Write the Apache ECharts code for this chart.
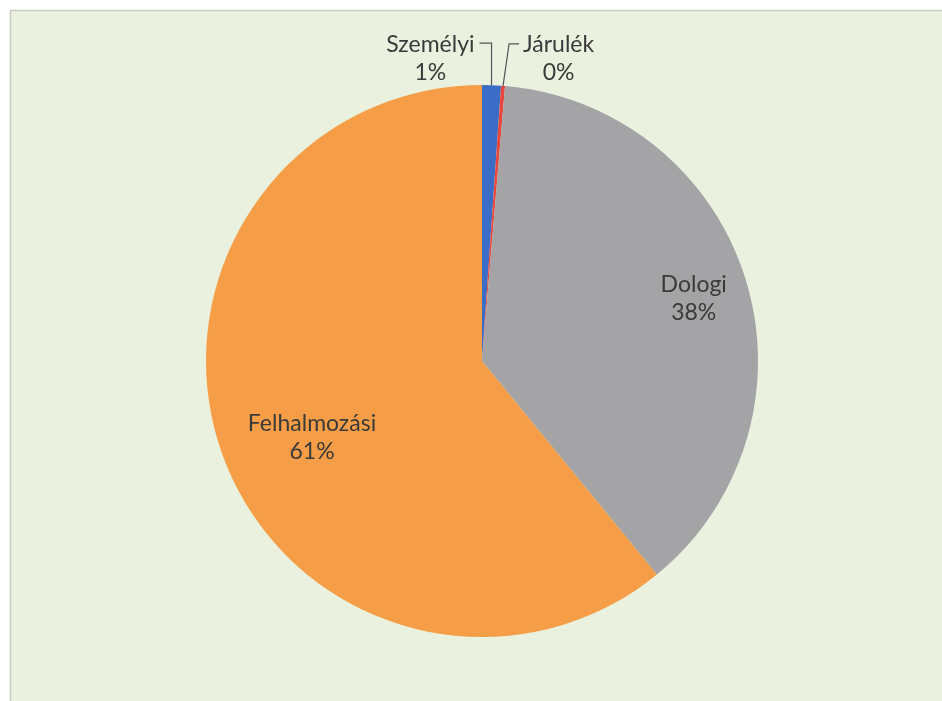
<!DOCTYPE html>
<html>
<head>
<meta charset="utf-8">
<script src="https://cdn.jsdelivr.net/npm/echarts@6/dist/echarts.min.js"></script>
<style>
  html, body { margin: 0; padding: 0; background: #ffffff; }
  #chart { width: 942px; height: 701px; }
</style>
</head>
<body>
<div id="chart"></div>
<script>
// Expenditure split by type (percent of total)
const categories = ['Személyi', 'Járulék', 'Dologi', 'Felhalmozási'];
const shares = [1.1, 0.23, 37.75, 60.92];
const colors = ['#3b6cc6', '#e8473d', '#a4a4a7', '#f59e47'];

// Pie geometry
const CX = 482, CY = 361, R = 276;

const total = shares.reduce((a, b) => a + b, 0);

// Mid angle of a slice, radians, clockwise from 12 o'clock
function midAngle(i) {
  let before = 0;
  for (let k = 0; k < i; k++) before += shares[k];
  return (before + shares[i] / 2) / total * 2 * Math.PI;
}
function polar(a, rr) {
  return [CX + rr * Math.sin(a), CY - rr * Math.cos(a)];
}

// Label placement: inside labels sit along the slice's mid angle,
// the two thin slices get callouts above the pie.
const inside = {
  'Dologi':       { radius: 0.80, turn: 0.8 },
  'Felhalmozási': { radius: 0.675, turn: -4.5 }
};
const callout = {
  'Személyi': { rise: 42, lean: 0, arm: -12, gap: 5 },
  'Járulék':  { rise: 42, lean: 6,  arm: 10,  gap: 4 }
};

const chart = echarts.init(document.getElementById('chart'), null, { renderer: 'canvas' });

chart.setOption({
  animation: false,
  backgroundColor: 'transparent',
  graphic: [{
    type: 'rect',
    silent: true,
    z: -10,
    shape: { x: 10.5, y: 10.5, width: 960, height: 720 },
    style: { fill: '#eaf1de', stroke: '#c9ccc4', lineWidth: 1.5 }
  }],
  series: [{
    type: 'pie',
    center: [CX, CY],
    radius: R,
    startAngle: 90,
    clockwise: true,
    avoidLabelOverlap: false,
    itemStyle: { borderWidth: 0 },
    label: {
      show: true,
      position: 'outside',
      fontFamily: 'Lato',
      fontSize: 23,
      lineHeight: 28,
      color: '#3a3a3a',
      align: 'center',
      formatter: p => p.name + '\n' + Math.round(p.percent) + '%'
    },
    labelLine: {
      show: true,
      lineStyle: { color: '#555555', width: 1.2 }
    },
    emphasis: { disabled: true },
    data: categories.map((name, i) => ({
      name: name,
      value: shares[i],
      itemStyle: { color: colors[i] },
      labelLine: { show: !!callout[name] }
    })),
    labelLayout: function (p) {
      const i = p.dataIndex;
      const name = categories[i];
      const a = midAngle(i);
      if (inside[name]) {
        const cfg = inside[name];
        const pt = polar(a + cfg.turn * Math.PI / 180, R * cfg.radius);
        return { x: pt[0], y: pt[1], align: 'center', verticalAlign: 'middle' };
      }
      const cfg = callout[name];
      const rim = polar(a, R);
      const elbow = [rim[0] + cfg.lean, rim[1] - cfg.rise];
      const end = [elbow[0] + cfg.arm, elbow[1]];
      const half = p.labelRect.width / 2;
      const x = cfg.arm < 0 ? end[0] - cfg.gap - half : end[0] + cfg.gap + half;
      return {
        x: x,
        y: end[1] + 15,
        align: 'center',
        verticalAlign: 'middle',
        labelLinePoints: [rim, elbow, end]
      };
    }
  }]
});
</script>
</body>
</html>
